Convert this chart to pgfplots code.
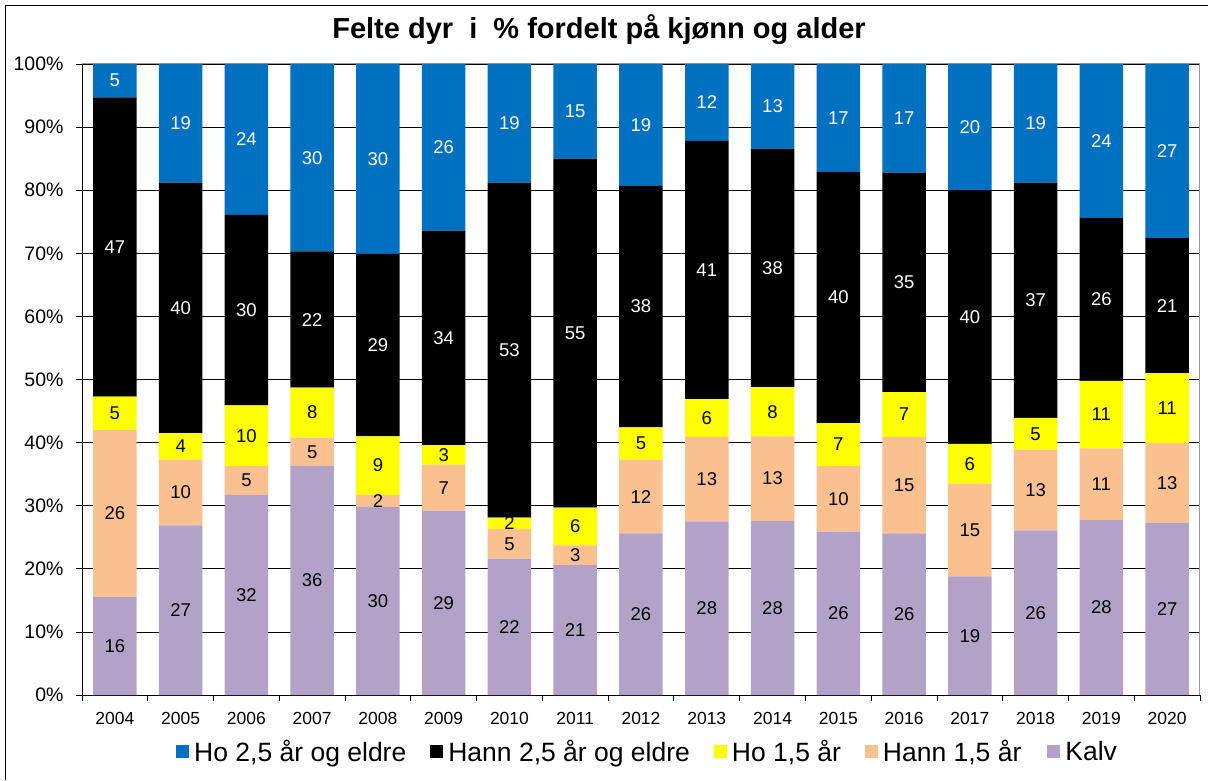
\documentclass[border=0pt]{standalone}
\usepackage{fontspec}
\setmainfont{Liberation Sans}
\usepackage{pgfplots}
\pgfplotsset{compat=1.18}
\definecolor{hoeld}{HTML}{0070C0}
\definecolor{hotwo}{HTML}{FFFF00}
\definecolor{hanntwo}{HTML}{FAC090}
\definecolor{kalv}{HTML}{B3A2C7}
\begin{document}
\begin{tikzpicture}
\useasboundingbox (0,0) rectangle (1208pt,780pt);
\draw[line width=1pt] (5.5pt,0) -- (5.5pt,774.5pt) -- (1208pt,774.5pt);
\node[font=\fontsize{29}{32}\selectfont\bfseries] at (599pt,750pt) {Felte dyr\ \ i\ \ \% fordelt på kjønn og alder};
\begin{axis}[
  at={(82pt,85pt)}, anchor=south west,
  scale only axis, width=1118pt, height=631pt,
  ybar stacked, bar width=43.5pt,
  xmin=-0.5, xmax=16.5, ymin=0, ymax=100,
  enlargelimits=false,
  xtick={-0.5,0.5,1.5,2.5,3.5,4.5,5.5,6.5,7.5,8.5,9.5,10.5,11.5,12.5,13.5,14.5,15.5,16.5},
  x tick label as interval,
  xticklabels={2004,2005,2006,2007,2008,2009,2010,2011,2012,2013,2014,2015,2016,2017,2018,2019,2020},
  ytick={0,10,20,30,40,50,60,70,80,90,100},
  yticklabels={0\%,10\%,20\%,30\%,40\%,50\%,60\%,70\%,80\%,90\%,100\%},
  ymajorgrids, grid style={black, line width=0.7pt},
  tick align=outside, major tick length=6pt,
  xtick pos=bottom, ytick pos=left,
  axis line style={gray!80, line width=1pt},
  tick style={black, line width=0.8pt},
  xticklabel style={font=\fontsize{17.5}{20}\selectfont, yshift=-8pt},
  yticklabel style={font=\fontsize{19.5}{22}\selectfont, xshift=-9pt},
  point meta=explicit symbolic,
  nodes near coords={\pgfplotspointmeta},
  every node near coord/.append style={anchor=center, font=\fontsize{18.5}{20}\selectfont},
  legend columns=-1,
  reverse legend,
  legend style={at={(0.0841,-0.0903)}, anchor=west, draw=none, fill=none, inner sep=0pt, font=\fontsize{26.5}{29}\selectfont, nodes={inner sep=0pt}},
  legend image code/.code={\fill[#1] (0pt,-6.5pt) rectangle (13pt,6.5pt);},
  clip=false,
]
\addplot[fill=kalv, draw=none] coordinates {
(0,15.6) [16] (1,26.9) [27] (2,31.7) [32] (3,36.3) [36] (4,29.8) [30] (5,29.2) [29] (6,21.6) [22] (7,20.6) [21] (8,25.6) [26] (9,27.5) [28] (10,27.6) [28] (11,25.9) [26] (12,25.6) [26] (13,18.8) [19] (14,26.1) [26] (15,27.7) [28] (16,27.3) [27]};
\addlegendentry{\kern5pt Kalv}
\addplot[fill=hanntwo, draw=none] coordinates {
(0,26.4) [26] (1,10.4) [10] (2,4.6) [5] (3,4.5) [5] (4,1.9) [2] (5,7.3) [7] (6,4.7) [5] (7,3.1) [3] (8,11.7) [12] (9,13.4) [13] (10,13.4) [13] (11,10.4) [10] (12,15.3) [15] (13,14.7) [15] (14,12.8) [13] (15,11.4) [11] (16,12.6) [13]};
\addlegendentry{\kern5pt Hann 1,5 år\kern26pt}
\addplot[fill=hotwo, draw=none] coordinates {
(0,5.3) [5] (1,4.2) [4] (2,9.6) [10] (3,7.9) [8] (4,9.3) [9] (5,3.1) [3] (6,1.8) [2] (7,6.0) [6] (8,5.1) [5] (9,6.0) [6] (10,7.8) [8] (11,6.8) [7] (12,7.1) [7] (13,6.3) [6] (14,5.0) [5] (15,10.7) [11] (16,11.1) [11]};
\addlegendentry{\kern5pt Ho 1,5 år\kern24pt}
\addplot[fill=black, draw=none, every node near coord/.append style={text=white}] coordinates {
(0,47.4) [47] (1,39.7) [40] (2,30.2) [30] (3,21.6) [22] (4,28.9) [29] (5,34.0) [34] (6,53.1) [53] (7,55.3) [55] (8,38.3) [38] (9,40.9) [41] (10,37.8) [38] (11,39.8) [40] (12,34.8) [35] (13,40.2) [40] (14,37.3) [37] (15,25.8) [26] (16,21.4) [21]};
\addlegendentry{\kern5pt Hann 2,5 år og eldre\kern24pt}
\addplot[fill=hoeld, draw=none, every node near coord/.append style={text=white}] coordinates {
(0,5.3) [5] (1,18.8) [19] (2,23.9) [24] (3,29.7) [30] (4,30.1) [30] (5,26.4) [26] (6,18.8) [19] (7,15.0) [15] (8,19.3) [19] (9,12.2) [12] (10,13.4) [13] (11,17.1) [17] (12,17.2) [17] (13,20.0) [20] (14,18.8) [19] (15,24.4) [24] (16,27.6) [27]};
\addlegendentry{\kern5pt Ho 2,5 år og eldre\kern24pt}
\draw[black, line width=1pt] (rel axis cs:0,1) -- (rel axis cs:0,0) -- (rel axis cs:1,0);
\end{axis}
\end{tikzpicture}
\end{document}
